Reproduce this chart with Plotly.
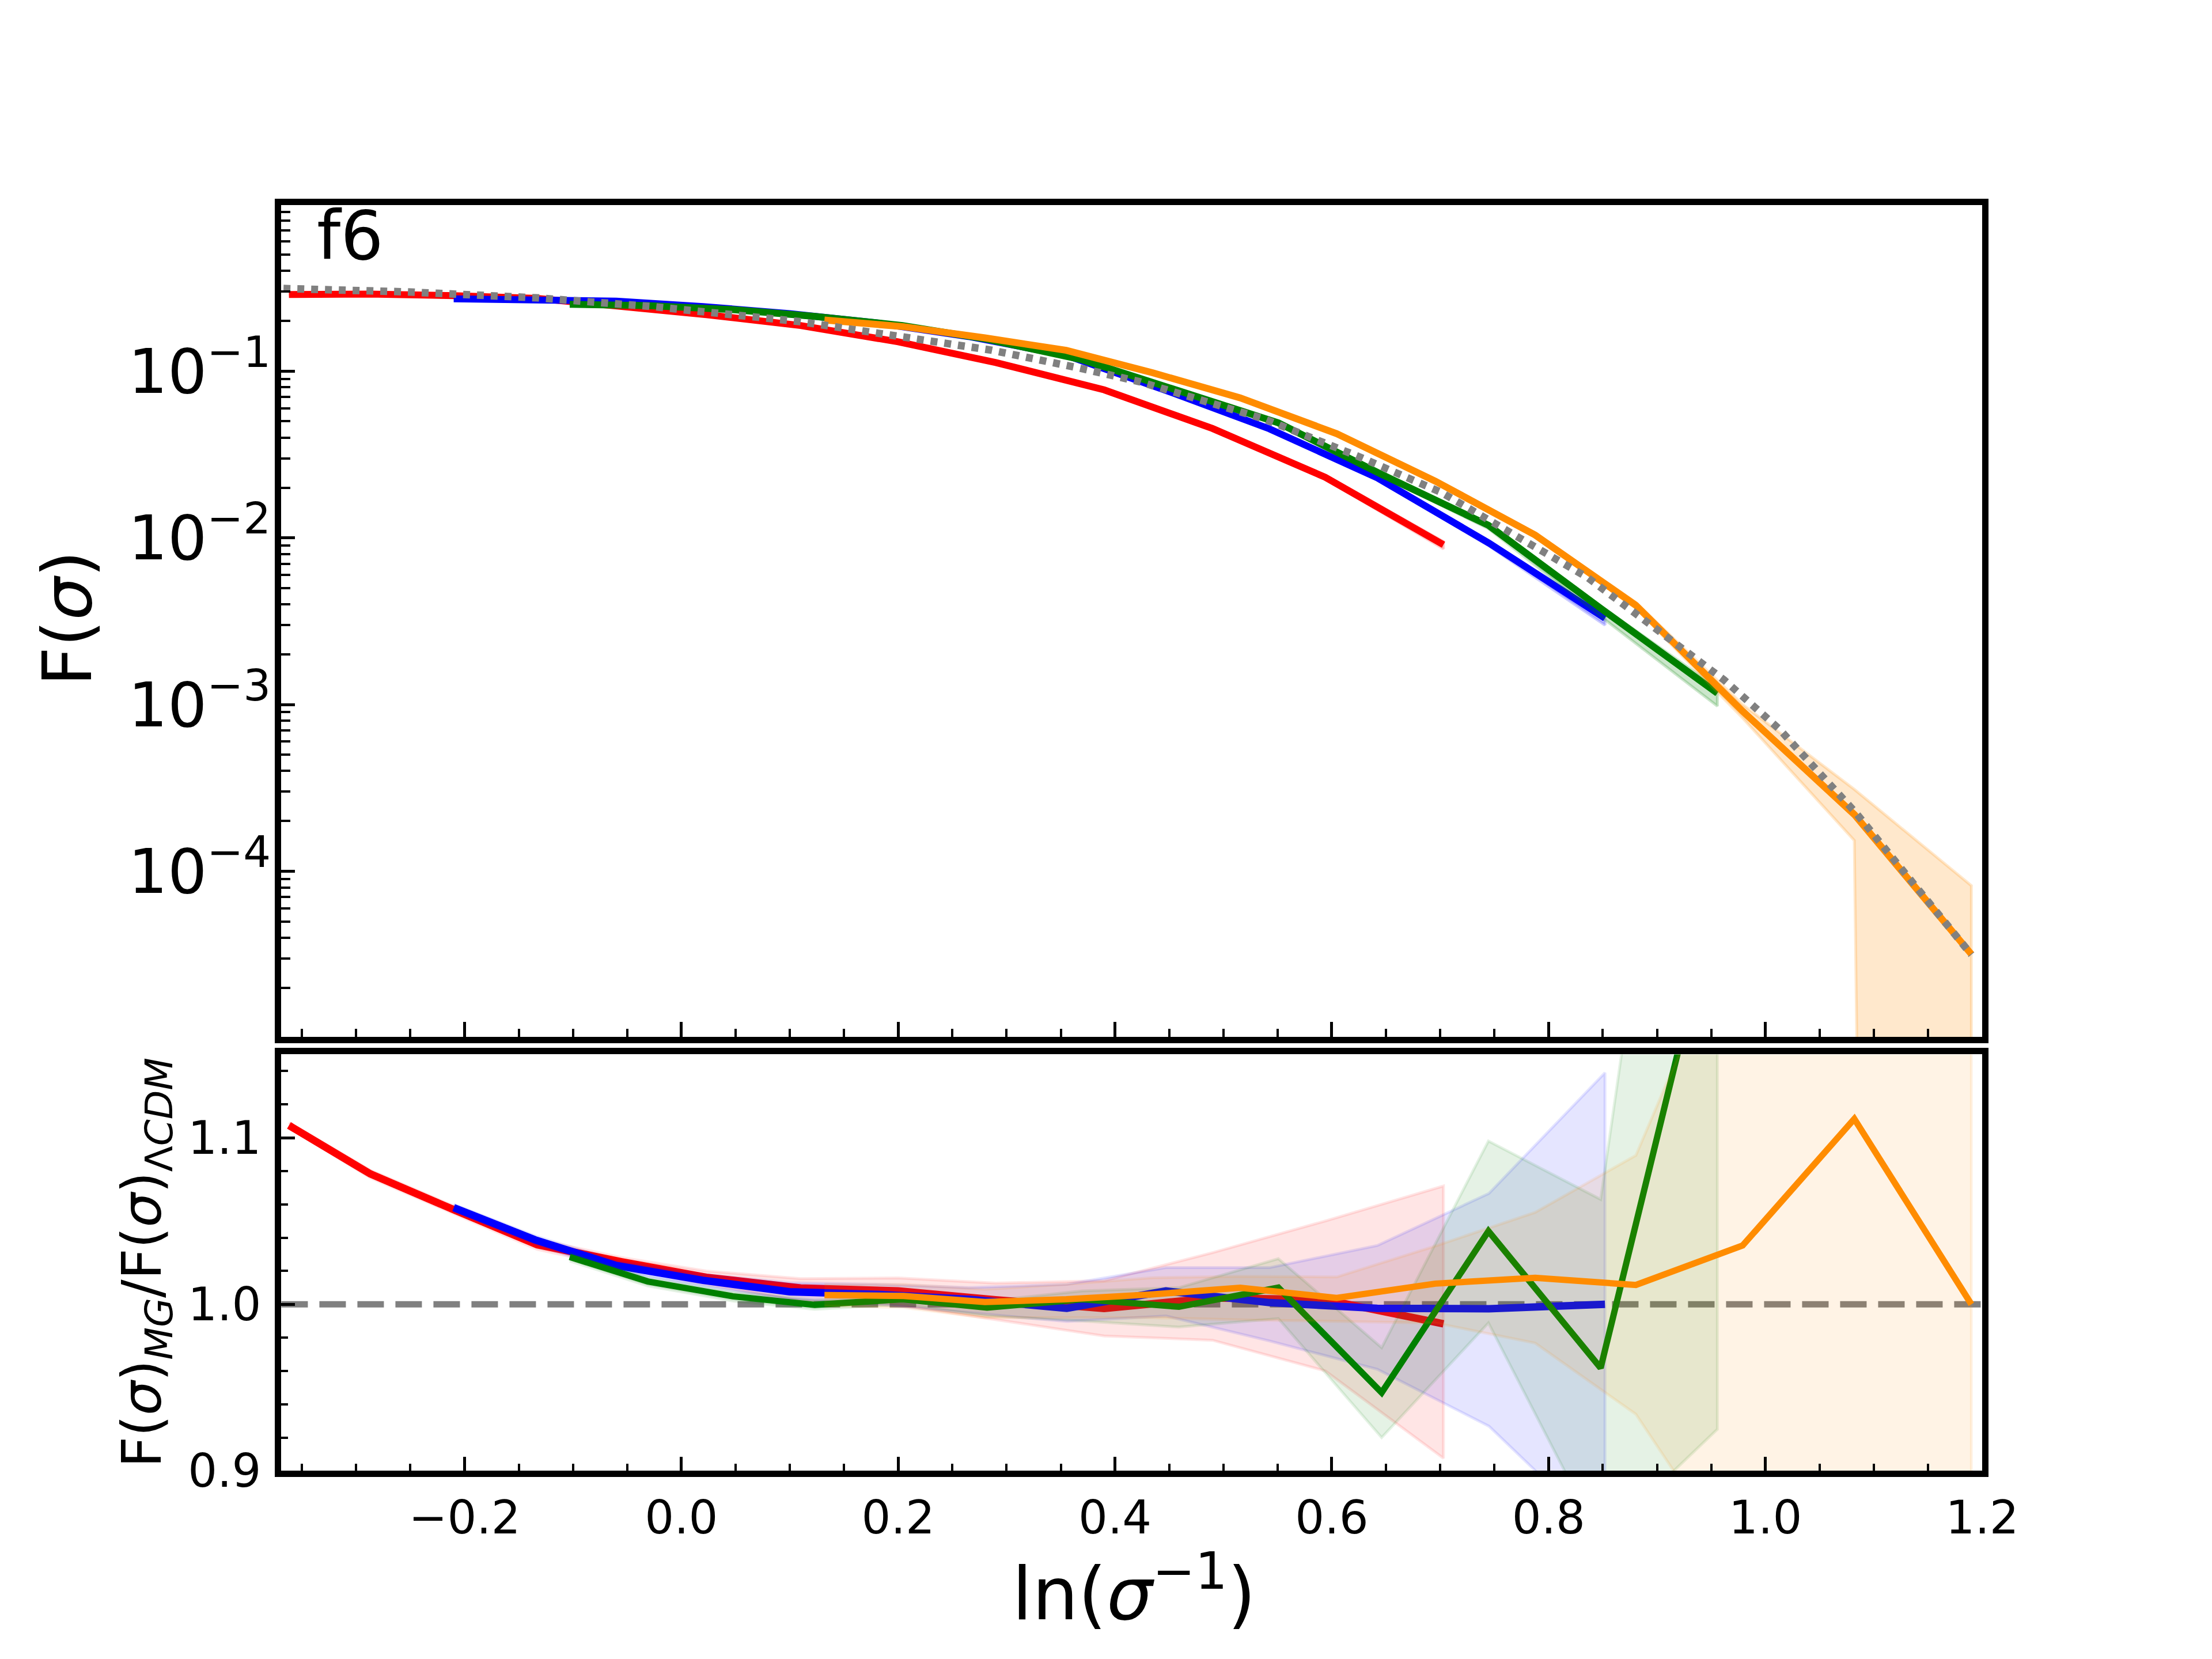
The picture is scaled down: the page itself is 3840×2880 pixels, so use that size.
import plotly.graph_objects as go

# ---- data ------------------------------------------------------------
# x = ln(1/sigma) bins of each run
RED_X = [-0.362, -0.287, -0.21, -0.133, -0.055, 0.023, 0.11, 0.20, 0.29, 0.39, 0.49, 0.594, 0.703]
BLUE_X = [-0.21, -0.135, -0.06, 0.02, 0.10, 0.18, 0.265, 0.3555, 0.447, 0.5425, 0.642, 0.745, 0.852]
GREEN_X = [-0.103, -0.031, 0.0475, 0.123, 0.204, 0.282, 0.37, 0.459, 0.5507, 0.646, 0.7445, 0.848, 0.9557]
ORANGE_X = [0.132, 0.205, 0.28, 0.355, 0.435, 0.5155, 0.6045, 0.6955, 0.7876, 0.8805, 0.979, 1.082, 1.19]

# F(sigma), upper panel
RED_F = [0.2884, 0.2904, 0.2838, 0.2735, 0.2443, 0.2183, 0.1879, 0.1500, 0.1127, 0.0773, 0.0453, 0.0231, 0.0091]
RED_F_HI = [0.291, 0.293, 0.287, 0.277, 0.247, 0.221, 0.190, 0.152, 0.1145, 0.0787, 0.0463, 0.0238, 0.0095]
RED_F_LO = [0.286, 0.288, 0.281, 0.270, 0.241, 0.215, 0.185, 0.148, 0.111, 0.0760, 0.0444, 0.0225, 0.0086]

BLUE_F = [0.2716, 0.2692, 0.2630, 0.2443, 0.2213, 0.1950, 0.1614, 0.1242, 0.0767, 0.0451, 0.0229, 0.00931, 0.00330]
BLUE_F_HI = [0.274, 0.272, 0.266, 0.247, 0.224, 0.197, 0.163, 0.1255, 0.0777, 0.0458, 0.0234, 0.00960, 0.00345]
BLUE_F_LO = [0.269, 0.267, 0.260, 0.242, 0.219, 0.193, 0.1598, 0.1229, 0.0757, 0.0444, 0.0224, 0.00895, 0.00300]

GREEN_F = [0.2518, 0.2477, 0.2339, 0.2133, 0.1879, 0.1556, 0.1169, 0.0767, 0.0490, 0.0240, 0.0119, 0.00378, 0.00117]
GREEN_F_HI = [0.254, 0.250, 0.236, 0.215, 0.1895, 0.157, 0.118, 0.0775, 0.0496, 0.0245, 0.0122, 0.0039, 0.00126]
GREEN_F_LO = [0.2495, 0.2455, 0.232, 0.2115, 0.1863, 0.1542, 0.1158, 0.0759, 0.0484, 0.0235, 0.01135, 0.00338, 0.00098]

ORANGE_F = [0.2028, 0.1849, 0.1585, 0.1334, 0.0977, 0.0692, 0.0422, 0.0219, 0.0104, 0.00394, 0.000912, 0.000219, 3.18e-5]
ORANGE_F_HI = [0.2045, 0.1865, 0.160, 0.1348, 0.0988, 0.0702, 0.0429, 0.0223, 0.0107, 0.0041, 0.00100, 0.000310, 8.2e-5]
ORANGE_F_LO = [0.201, 0.1833, 0.157, 0.132, 0.0966, 0.0682, 0.0415, 0.0215, 0.0101, 0.00378, 0.00083, 0.000153, 1e-60]

# LCDM reference curve (grey dotted)
LCDM_X = [-0.367, -0.254, -0.133, -0.027, 0.11, 0.2, 0.286, 0.367, 0.422, 0.538, 0.624, 0.701, 0.836, 0.962, 1.013, 1.084, 1.19]
LCDM_F = [0.3133, 0.2992, 0.2754, 0.2443, 0.1982, 0.1641, 0.1337, 0.1045, 0.0867, 0.0516, 0.0309, 0.01875, 0.00578, 0.001403, 0.000711, 0.000222, 3.16e-5]

# F_MG / F_LCDM, lower panel
RED_R = [1.1074, 1.0783, 1.0568, 1.0358, 1.0255, 1.0162, 1.0098, 1.008, 1.0027, 0.9975, 1.0038, 1.0028, 0.9883]
RED_R_HI = [1.109, 1.0805, 1.059, 1.039, 1.028, 1.020, 1.0154, 1.0158, 1.0127, 1.0142, 1.031, 1.050, 1.071]
RED_R_LO = [1.106, 1.076, 1.0545, 1.033, 1.022, 1.012, 1.002, 0.9996, 0.991, 0.981, 0.9784, 0.960, 0.9076]

BLUE_R = [1.058, 1.0387, 1.0233, 1.0144, 1.0075, 1.006, 1.003, 0.9976, 1.008, 1.001, 0.9976, 0.9973, 1.0]
BLUE_R_HI = [1.060, 1.041, 1.026, 1.018, 1.013, 1.012, 1.010, 1.012, 1.022, 1.022, 1.0353, 1.0666, 1.139]
BLUE_R_LO = [1.056, 1.036, 1.020, 1.011, 1.003, 1.0, 0.995, 0.9897, 0.993, 0.978, 0.961, 0.9268, 0.86]

GREEN_R = [1.0284, 1.0137, 1.0048, 0.9997, 1.003, 0.998, 1.003, 0.9985, 1.010, 0.947, 1.0439, 0.9618, 1.248]
GREEN_R_HI = [1.031, 1.016, 1.0075, 1.0025, 1.006, 1.002, 1.008, 1.010, 1.0274, 0.974, 1.098, 1.063, 1.55]
GREEN_R_LO = [1.026, 1.011, 1.002, 0.997, 1.000, 0.993, 0.99, 0.9863, 0.9914, 0.920, 0.9888, 0.858, 0.925]

ORANGE_R = [1.0055, 1.005, 1.0014, 1.003, 1.006, 1.0099, 1.0038, 1.0124, 1.0159, 1.0116, 1.0353, 1.1113, 1.0]
ORANGE_R_HI = [1.012, 1.012, 1.009, 1.012, 1.016, 1.0168, 1.0164, 1.035, 1.0552, 1.0894, 1.24, 1.6, 1.6]
ORANGE_R_LO = [0.999, 0.998, 0.992, 0.992, 0.992, 0.9907, 0.9897, 0.9888, 0.9767, 0.934, 0.838, 0.0, 0.0]

MODELS = [
    ("red", (255, 0, 0), RED_X, RED_F, RED_F_HI, RED_F_LO, RED_R, RED_R_HI, RED_R_LO, 13),
    ("blue", (0, 0, 255), BLUE_X, BLUE_F, BLUE_F_HI, BLUE_F_LO, BLUE_R, BLUE_R_HI, BLUE_R_LO, 13),
    ("green", (0, 128, 0), GREEN_X, GREEN_F, GREEN_F_HI, GREEN_F_LO, GREEN_R, GREEN_R_HI, GREEN_R_LO, 11),
    ("orange", (255, 140, 0), ORANGE_X, ORANGE_F, ORANGE_F_HI, ORANGE_F_LO, ORANGE_R, ORANGE_R_HI, ORANGE_R_LO, 11),
]

FONT = "DejaVu Sans"
X_RANGE = [-0.369, 1.2001]
# plotly draws the spine outside the domain, so domains are pulled in a little
X_DOMAIN = [0.1272, 0.9090]
Y_TOP_DOMAIN = [0.3673, 0.8770]
Y_BOT_DOMAIN = [0.1015, 0.3567]


def rgba(c, a):
    return f"rgba({c[0]},{c[1]},{c[2]},{a})"


def band(x, hi, lo, col, alpha, xa, ya):
    # closed polygon like fill_between (edge drawn with same alpha)
    return go.Scatter(
        x=list(x) + list(x)[::-1], y=list(hi) + list(lo)[::-1],
        xaxis=xa, yaxis=ya, mode="lines", fill="toself",
        fillcolor=rgba(col, alpha), line=dict(color=rgba(col, alpha), width=5),
        hoverinfo="skip", showlegend=False,
    )


fig = go.Figure()

for name, col, x, f, fhi, flo, r, rhi, rlo, lw_bot in MODELS:
    fig.add_trace(band(x, fhi, flo, col, 0.2, "x", "y"))
    fig.add_trace(go.Scatter(x=x, y=f, xaxis="x", yaxis="y", mode="lines",
                             line=dict(color=rgba(col, 1), width=12), name=name, showlegend=False))
    fig.add_trace(band(x, rhi, rlo, col, 0.1, "x2", "y2"))
    fig.add_trace(go.Scatter(x=x, y=r, xaxis="x2", yaxis="y2", mode="lines",
                             line=dict(color=rgba(col, 1), width=lw_bot), name=name, showlegend=False))

fig.add_trace(go.Scatter(x=LCDM_X, y=LCDM_F, xaxis="x", yaxis="y", mode="lines",
                         line=dict(color="gray", width=13, dash="12px,12px"), showlegend=False))

# ratio = 1 reference line
fig.add_shape(type="line", xref="x2 domain", yref="y2", x0=0, x1=1, y0=1.0, y1=1.0,
              line=dict(color="gray", width=11, dash="46px,20px"), layer="below")

axis_common = dict(
    showline=True, linewidth=11, linecolor="black", mirror=True,
    showgrid=False, zeroline=False, ticks="inside", tickcolor="black",
)

fig.update_layout(
    width=3840, height=2880, autosize=False,
    margin=dict(l=0, r=0, t=0, b=0),
    paper_bgcolor="white", plot_bgcolor="white",
    font=dict(family=FONT, color="black"),
    xaxis=dict(domain=X_DOMAIN, anchor="y", range=X_RANGE, tick0=0, dtick=0.2,
               showticklabels=False, ticklen=26, tickwidth=5,
               minor=dict(ticks="inside", dtick=0.05, ticklen=14, tickwidth=4, tickcolor="black"),
               **axis_common),
    yaxis=dict(domain=Y_TOP_DOMAIN, anchor="x", type="log", range=[-4.995, -0.005], dtick=1,
               exponentformat="power", ticklen=24, tickwidth=5,
               tickfont=dict(size=86, family=FONT), ticklabelstandoff=-10,
               minor=dict(ticks="inside", dtick="D1", ticklen=16, tickwidth=4, tickcolor="black"),
               **axis_common),
    xaxis2=dict(domain=X_DOMAIN, anchor="y2", range=X_RANGE, tick0=0, dtick=0.2,
                tickformat=".1f", ticklen=24, tickwidth=5,
                tickfont=dict(size=80, family=FONT), ticklabelstandoff=2,
                minor=dict(ticks="inside", dtick=0.05, ticklen=12, tickwidth=4, tickcolor="black"),
                **axis_common),
    yaxis2=dict(domain=Y_BOT_DOMAIN, anchor="x2", range=[0.89999, 1.15], tick0=0.9, dtick=0.1,
                tickformat=".1f", ticklen=24, tickwidth=5,
                tickfont=dict(size=80, family=FONT), ticklabelstandoff=8,
                minor=dict(ticks="inside", dtick=0.02, ticklen=12, tickwidth=4, tickcolor="black"),
                **axis_common),
)

fig.add_annotation(text="f6", xref="paper", yref="paper", x=0.143, y=0.883,
                   xanchor="left", yanchor="top", showarrow=False,
                   font=dict(size=117, family=FONT))
fig.add_annotation(text="F(<i>σ</i>)", xref="paper", yref="paper", x=0.029, y=0.624,
                   xanchor="center", yanchor="middle", textangle=-90, showarrow=False,
                   font=dict(size=118, family=FONT))
fig.add_annotation(text="F(<i>σ</i>)<sub><i>MG</i></sub>/F(<i>σ</i>)<sub>Λ<i>CDM</i></sub>",
                   xref="paper", yref="paper", x=0.065, y=0.229,
                   xanchor="center", yanchor="middle", textangle=-90, showarrow=False,
                   font=dict(size=94, family=FONT))
fig.add_annotation(text="ln(<i>σ</i><sup>−1</sup>)", xref="paper", yref="paper", x=0.519, y=0.029,
                   xanchor="center", yanchor="middle", showarrow=False,
                   font=dict(size=126, family=FONT))

fig.write_html("out.html")
